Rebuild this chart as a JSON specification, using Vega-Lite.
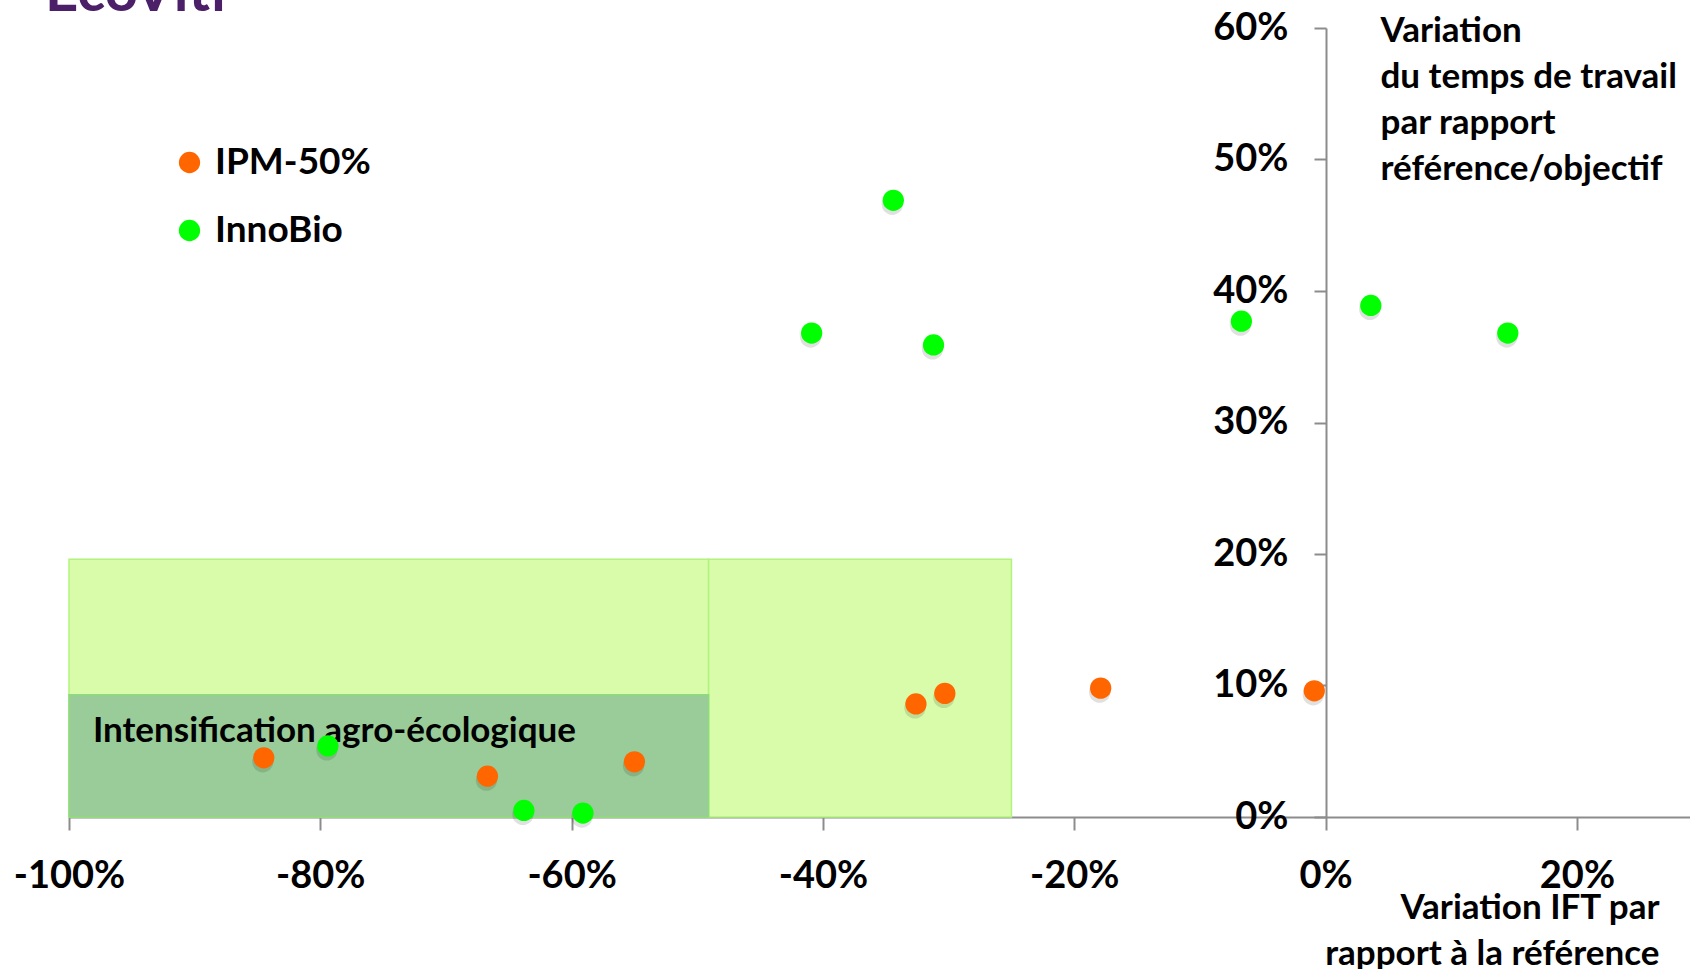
{
  "$schema": "https://vega.github.io/schema/vega-lite/v6.json",
  "width": 1621,
  "height": 789,
  "autosize": {"type": "none"},
  "padding": {"left": 69, "top": 28, "right": 0, "bottom": 152},
  "background": "white",
  "config": {
    "view": {"stroke": null},
    "font": "Lato",
    "legend": {
      "orient": "none",
      "legendX": 102,
      "legendY": 116,
      "padding": 0,
      "symbolType": "circle",
      "symbolSize": 452,
      "symbolStrokeWidth": 0,
      "labelFont": "Lato",
      "labelFontWeight": "bold",
      "labelFontSize": 37,
      "labelColor": "black",
      "labelOffset": 7,
      "rowPadding": 30,
      "title": null
    }
  },
  "datasets": {
    "zones": [
      {"zone": "clair", "x1": -1, "x2": -0.491, "y1": 0, "y2": 0.196},
      {"zone": "clair", "x1": -0.491, "x2": -0.25, "y1": 0, "y2": 0.196},
      {"zone": "fonce", "x1": -1, "x2": -0.491, "y1": 0, "y2": 0.093}
    ],
    "points": [
      {"serie": "IPM-50%", "ift": -0.845, "temps": 0.045},
      {"serie": "IPM-50%", "ift": -0.667, "temps": 0.031},
      {"serie": "IPM-50%", "ift": -0.55, "temps": 0.042},
      {"serie": "IPM-50%", "ift": -0.326, "temps": 0.086},
      {"serie": "IPM-50%", "ift": -0.303, "temps": 0.094},
      {"serie": "IPM-50%", "ift": -0.179, "temps": 0.098},
      {"serie": "IPM-50%", "ift": -0.009, "temps": 0.096},
      {"serie": "InnoBio", "ift": -0.794, "temps": 0.054},
      {"serie": "InnoBio", "ift": -0.638, "temps": 0.005},
      {"serie": "InnoBio", "ift": -0.591, "temps": 0.003},
      {"serie": "InnoBio", "ift": -0.409, "temps": 0.368},
      {"serie": "InnoBio", "ift": -0.344, "temps": 0.469},
      {"serie": "InnoBio", "ift": -0.312, "temps": 0.359},
      {"serie": "InnoBio", "ift": -0.067, "temps": 0.377},
      {"serie": "InnoBio", "ift": 0.036, "temps": 0.389},
      {"serie": "InnoBio", "ift": 0.145, "temps": 0.368}
    ],
    "annotation": [{"label": "Intensification agro-écologique"}],
    "entete": [{"label": "EcoViti"}]
  },
  "layer": [
    {
      "data": {"name": "zones"},
      "transform": [{"filter": "datum.zone == 'clair'"}],
      "mark": {"type": "rect", "color": "#D8FCAA", "stroke": "#B2F27E", "strokeWidth": 1.5},
      "encoding": {
        "x": {
          "field": "x1",
          "type": "quantitative",
          "scale": {"domain": [-1, 0.29], "nice": false, "zero": false},
          "axis": {
            "orient": "bottom",
            "values": [-1, -0.8, -0.6, -0.4, -0.2, 0, 0.2],
            "labelExpr": "replace(format(datum.value, '.0%'), '\u2212', '-')",
            "labelFont": "Lato",
            "labelFontWeight": "bold",
            "labelFontSize": 38,
            "labelColor": "black",
            "labelPadding": 27,
            "labelFlush": false,
            "labelOverlap": false,
            "labelBound": false,
            "tickSize": 13,
            "tickWidth": 2,
            "tickColor": "#8C8C8C",
            "domainColor": "#8C8C8C",
            "domainWidth": 2,
            "grid": false,
            "title": ["Variation IFT par", "rapport à la référence"],
            "titleFont": "Lato",
            "titleFontWeight": "bold",
            "titleFontSize": 35,
            "titleColor": "black",
            "titleAlign": "right",
            "titleBaseline": "alphabetic",
            "titleLineHeight": 46,
            "titleX": 1590,
            "titleY": 101
          }
        },
        "x2": {"field": "x2"},
        "y": {
          "field": "y1",
          "type": "quantitative",
          "scale": {"domain": [0, 0.6], "nice": false},
          "axis": {
            "orient": "left",
            "offset": -1257,
            "values": [0, 0.1, 0.2, 0.3, 0.4, 0.5, 0.6],
            "labelExpr": "format(datum.value, '.0%')",
            "labelFont": "Lato",
            "labelFontWeight": "bold",
            "labelFontSize": 38,
            "labelColor": "black",
            "labelPadding": 26,
            "labelOverlap": false,
            "labelBound": false,
            "labelFlush": false,
            "tickSize": 12,
            "tickWidth": 2,
            "tickColor": "#8C8C8C",
            "domainColor": "#8C8C8C",
            "domainWidth": 2,
            "grid": false,
            "title": ["Variation", "du temps de travail", "par rapport", "référence/objectif"],
            "titleFont": "Lato",
            "titleFontWeight": "bold",
            "titleFontSize": 35,
            "titleColor": "black",
            "titleAngle": 0,
            "titleAlign": "left",
            "titleBaseline": "alphabetic",
            "titleLineHeight": 46,
            "titleX": 54,
            "titleY": 13
          }
        },
        "y2": {"field": "y2"}
      }
    },
    {
      "data": {"name": "zones"},
      "transform": [{"filter": "datum.zone == 'fonce'"}],
      "mark": {"type": "rect", "color": "#99CC99", "stroke": "#8EDB7E", "strokeWidth": 1.5},
      "encoding": {
        "x": {"field": "x1", "type": "quantitative"},
        "x2": {"field": "x2"},
        "y": {"field": "y1", "type": "quantitative"},
        "y2": {"field": "y2"}
      }
    },
    {
      "data": {"name": "annotation"},
      "mark": {
        "type": "text",
        "align": "left",
        "baseline": "alphabetic",
        "font": "Lato",
        "fontWeight": "bold",
        "fontSize": 35,
        "color": "black"
      },
      "encoding": {
        "text": {"field": "label"},
        "x": {"datum": -0.981, "type": "quantitative"},
        "y": {"datum": 0.057, "type": "quantitative"}
      }
    },
    {
      "data": {"name": "points"},
      "mark": {"type": "circle", "size": 452, "color": "black", "opacity": 0.12, "yOffset": 4, "xOffset": -1},
      "encoding": {
        "x": {"field": "ift", "type": "quantitative"},
        "y": {"field": "temps", "type": "quantitative"}
      }
    },
    {
      "data": {"name": "points"},
      "mark": {"type": "circle", "size": 452, "opacity": 1},
      "encoding": {
        "x": {"field": "ift", "type": "quantitative"},
        "y": {"field": "temps", "type": "quantitative"},
        "color": {
          "field": "serie",
          "type": "nominal",
          "scale": {"domain": ["IPM-50%", "InnoBio"], "range": ["#FF6600", "#00FF00"]}
        }
      }
    },
    {
      "data": {"name": "entete"},
      "mark": {
        "type": "text",
        "align": "left",
        "baseline": "alphabetic",
        "font": "Lato",
        "fontWeight": "bold",
        "fontSize": 58,
        "color": "#4B2068"
      },
      "encoding": {
        "text": {"field": "label"},
        "x": {"datum": -1.019, "type": "quantitative"},
        "y": {"datum": 0.613, "type": "quantitative"}
      }
    }
  ]
}
